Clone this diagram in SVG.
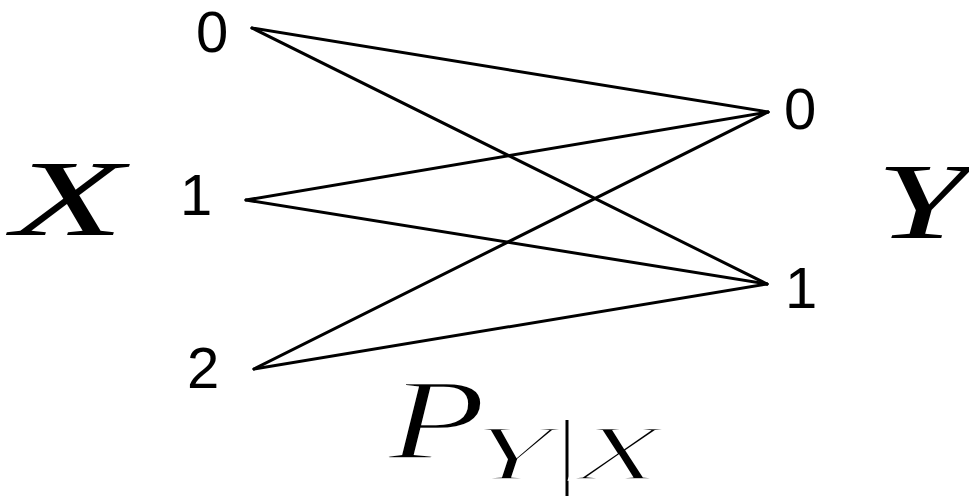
<svg xmlns="http://www.w3.org/2000/svg" width="969" height="497" viewBox="0 0 969 497">
<style>
.num{font-family:"Liberation Sans",Arial,sans-serif;font-size:58px;fill:#000}
.math{font-family:"Liberation Serif","Times New Roman",serif;font-style:italic;fill:#000}
.thin{stroke:#fff;stroke-width:2.5}
.edge{stroke:#000;stroke-width:3;fill:none;stroke-linecap:round}
</style>
<rect width="969" height="497" fill="#fff"/>
<g id="connectors">
<line class="edge" x1="252" y1="28" x2="768" y2="112"/>
<line class="edge" x1="252" y1="28" x2="767" y2="284"/>
<line class="edge" x1="246" y1="200" x2="768" y2="112"/>
<line class="edge" x1="246" y1="200" x2="767" y2="284"/>
<line class="edge" x1="254" y1="369" x2="768" y2="112"/>
<line class="edge" x1="254" y1="369" x2="767" y2="284"/>
</g>
<g id="x0"><text class="num" x="196" y="52">0</text></g>
<g id="x1"><text class="num" x="180" y="215">1</text></g>
<g id="x2"><text class="num" x="187" y="388">2</text></g>
<g id="y0"><text class="num" x="784" y="129">0</text></g>
<g id="y1"><text class="num" x="785" y="308">1</text></g>
<g id="labelX"><text class="math" x="12" y="235" font-size="108" textLength="112" lengthAdjust="spacingAndGlyphs">X</text></g>
<g id="labelY"><text class="math" x="876" y="238" font-size="108" textLength="92" lengthAdjust="spacingAndGlyphs">Y</text></g>
<g id="labelP">
<text class="math thin" x="388" y="458" font-size="114" textLength="98" lengthAdjust="spacingAndGlyphs">P</text>
<text class="math thin" x="470" y="479" font-size="78" textLength="82" lengthAdjust="spacingAndGlyphs">Y</text>
<line x1="567" y1="420" x2="567" y2="496" stroke="#000" stroke-width="3"/>
<text class="math thin" x="575" y="479" font-size="78" textLength="88" lengthAdjust="spacingAndGlyphs">X</text>
</g>
</svg>
